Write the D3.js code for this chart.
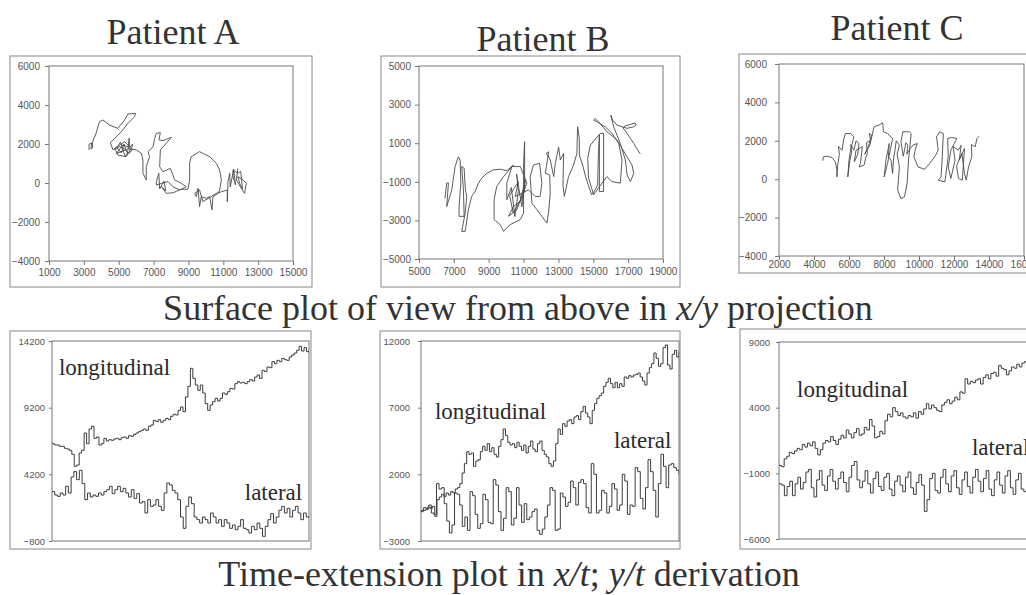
<!DOCTYPE html>
<html>
<head>
<meta charset="utf-8">
<script src="https://cdn.jsdelivr.net/npm/d3@7"></script>
<style>
body{margin:0;background:#fff;}
svg{display:block;}
.tick text{font-family:Arial,"Liberation Sans",sans-serif;fill:#555;}
.tick line{stroke:#777;}
</style>
</head>
<body>
<svg width="1026" height="595"></svg>
<script>
// x/y surface paths, [x, y] pairs
var pathA = [[3300,1700],[3300,2000],[3500,2050],[3500,1800],[3400,1750],[3450,2000],[3700,2550],[3900,3150],[4100,3230],[4480,2970],[4950,2800],[5340,3230],[5530,3540],[5970,3570],[5910,3400],[5530,3060],[5150,2630],[4770,2290],[4520,2070],[4670,1700],[5050,1860],[5440,1700],[4860,1520],[5240,1950],[5720,1780],[5440,1350],[4960,1430],[4770,1780],[5340,2120],[5620,1860],[5600,2300],[5500,1500],[5300,2000],[5150,1550],[4900,1800],[5100,2100],[5350,1400],[5700,1600],[5800,2000],[5550,1750],[6010,1700],[6300,1520],[6390,1180],[6390,500],[6580,160],[6580,840],[6770,1350],[6680,1610],[6970,1860],[7060,2290],[7160,2550],[7390,2580],[7310,2210],[7540,2170],[8020,2340],[7640,1950],[7390,1700],[7350,840],[7540,580],[7960,750],[8110,410],[8210,160],[8590,-20],[8880,-190],[8500,-360],[8110,-190],[7830,70],[7450,-20],[7160,-100],[7160,70],[7300,500],[7350,-300],[7600,100],[7700,-400],[7450,-190],[7730,-530],[8110,-500],[8590,-320],[8970,-320],[9070,160],[9070,1010],[9160,1350],[9640,1610],[9830,1520],[10220,1350],[10600,1010],[10790,670],[10890,160],[10790,-360],[10700,-530],[10410,-700],[10350,-1380],[10220,-700],[10030,-790],[9740,-700],[9640,-1210],[9550,-270],[9450,-700],[9360,-530],[9640,-360],[9830,-960],[10600,-530],[11230,-360],[11230,-960],[11270,70],[11370,500],[11400,-200],[11600,700],[11700,-100],[11560,330],[11560,670],[11840,500],[12000,600],[12100,-300],[11940,-20],[11840,330],[12130,160],[12320,-20],[12220,-530],[12030,-270],[11750,160],[11840,750]];

var pathB = [[6490,-1850],[6590,-1070],[6690,-1070],[6590,-2280],[6880,-1420],[7070,-210],[7260,300],[7360,130],[7400,-1070],[7300,-2280],[7300,-2790],[7590,-2790],[7550,-1420],[7450,-210],[7590,-300],[7660,-1420],[7740,-1760],[7650,-2620],[7450,-3570],[7650,-3570],[7830,-2450],[8020,-1760],[8220,-1500],[8410,-1070],[8600,-810],[8890,-560],[9270,-380],[9660,-350],[10040,-420],[10420,-130],[9850,-730],[9460,-1240],[9310,-1930],[9310,-2960],[9660,-3220],[9850,-3570],[10230,-3220],[10810,-2960],[11000,-2620],[11000,-40],[11060,1080],[11060,-1420],[10900,-1930],[10420,-2280],[10130,-2790],[10610,-2450],[11190,-1070],[10810,-210],[10330,-210],[10040,-1070],[10040,-1930],[10300,-1300],[10500,-2800],[10700,-1500],[10600,-600],[10900,-2300],[11100,-900],[10800,-2000],[10400,-2600],[10200,-1700],[10700,-1000],[10520,-1760],[11280,-1420],[11670,-1760],[11950,-1760],[12050,-1070],[11920,-40],[11570,-130],[11380,-730],[11480,-2110],[11770,-2450],[12050,-2790],[12340,-3140],[12440,-2530],[12530,-1590],[12500,-640],[12250,-560],[12440,560],[12310,480],[12530,130],[12730,-730],[12820,-40],[13010,790],[13110,130],[13300,480],[13260,-1160],[13340,-1760],[13580,-730],[13870,-130],[14060,480],[14100,1850],[14200,1250],[14200,390],[14390,-130],[14580,-810],[14770,-1330],[14900,-1670],[15060,-1500],[15250,-1160],[15290,390],[15350,1420],[15350,-1500],[15590,-1500],[15590,1510],[15400,1510],[14830,900],[14680,210],[14730,-810],[15020,-1670],[15780,-730],[16070,-990],[16550,-1070],[16650,130],[16460,990],[16070,1510],[15690,1850],[15210,2110],[15020,2200],[15110,2280],[15300,2110],[15780,1600],[16360,1170],[16930,300],[17220,-130],[17320,-560],[17130,-990],[16940,-640],[16840,130],[16550,990],[16170,1850],[16010,2450],[16100,2200],[16360,1940],[16650,1850],[16930,1770],[17320,1850],[17470,1940],[17400,2050],[16840,1900],[16700,1800],[16940,1510],[17130,1250],[17320,990],[17510,700],[17700,440]];

var pathC = [[4500,960],[4540,1170],[4740,1200],[5030,1130],[5220,900],[5310,470],[5310,120],[5350,700],[5450,1300],[5400,1700],[5600,1510],[5700,2100],[5800,2380],[6090,2380],[6280,2210],[6090,1510],[6000,1000],[5930,120],[6050,990],[6150,1400],[6100,1800],[6280,1510],[6400,2000],[6570,1860],[6500,1300],[6300,900],[6400,1500],[6760,1690],[6700,1200],[6660,820],[6570,640],[6860,730],[6950,1100],[7050,1340],[7000,1900],[7240,2030],[7150,2380],[7300,2300],[7100,1700],[6900,1300],[7200,1800],[7430,2730],[7720,2820],[7920,2940],[7970,2470],[8200,2380],[8490,2120],[8360,1510],[8200,820],[8010,120],[8110,990],[8300,1860],[8250,1200],[8400,990],[8490,300],[8550,1100],[8630,1510],[8700,2000],[8880,1770],[8750,1300],[8880,640],[8780,-570],[8970,-1010],[9170,-920],[9320,-230],[9400,990],[9550,2380],[9450,2470],[9070,2470],[8970,1950],[9100,1200],[9170,1510],[9250,1900],[9360,1770],[9300,1300],[9500,1600],[9650,1770],[9900,1860],[9780,1510],[9710,1170],[9940,640],[10320,520],[10610,820],[10900,1170],[11100,1510],[11000,2210],[11190,2470],[11390,2380],[11330,1170],[11260,120],[11100,-50],[11480,-140],[11670,1170],[11640,2120],[11870,2170],[12160,2120],[11820,1510],[11670,640],[11820,40],[12060,990],[11950,1700],[12250,1510],[12410,1770],[12300,1000],[12600,1600],[12540,820],[12480,-50],[12250,40],[12150,700],[12450,1340],[12600,300],[12700,-50],[12830,640],[13020,1170],[13000,1800],[13210,1690],[13310,2120],[13440,2240]];

// time-extension series (one value per sample)
var longA = [6500,6400,6400,6300,6300,6150,6100,6000,5700,4800,4900,5800,6000,7300,6500,7600,7800,6900,7000,6400,6500,6900,6700,6800,6750,6850,6900,6800,6950,7000,6900,7100,7050,7200,7300,7400,7500,7600,7500,7800,7900,8250,8150,8300,8100,8250,8400,8300,8550,8700,8650,9000,9250,8900,10000,10800,12150,11400,10900,10500,10900,10300,9500,9000,9400,9650,9900,9700,9900,10300,10200,10400,10650,10600,11000,11150,11050,11100,11000,11150,11300,11200,11500,11650,11400,12000,11900,12250,12200,12650,12500,12750,12650,12900,12800,12750,13000,13150,13300,13500,13800,13450,13700,13400,13500];
var latA = [2900,2650,2550,2800,2650,3300,2800,4000,4400,3800,4500,3500,2300,2800,2500,2650,2550,2800,2650,2900,3050,3300,2750,3050,3300,2900,3150,2800,2500,3050,2400,2750,2050,2150,1300,2300,1800,1900,2300,1800,1500,2800,3550,3400,3000,2800,2300,1000,150,1800,2500,2000,1000,800,550,1000,800,550,1300,1000,550,800,300,800,550,150,400,50,300,800,150,50,-200,300,50,550,150,-450,300,800,1250,550,1000,1500,1800,1300,1650,1000,1500,1800,1300,800,1300,1000,1100];
var longB = [-800,-700,-650,-450,-550,-400,-1150,100,300,500,350,600,450,700,600,900,1000,1300,2100,2800,3700,3500,3600,2600,3000,3100,3700,4100,3800,4300,3700,4000,3500,3300,4100,4600,5400,4900,4400,4200,4300,4000,4400,4100,3800,4200,3600,4100,4500,3900,3700,4300,4500,3800,3500,3300,2800,2600,3000,4300,5400,5000,5800,5600,6000,6100,5800,6300,6400,6100,6700,7100,6600,6300,5800,6800,7300,7700,7900,8100,8600,8900,9200,8800,8500,8900,8500,8800,8600,9300,9200,9400,9300,9450,9500,9600,9300,9000,8700,9600,10000,10300,11100,10700,10100,10300,11500,11700,10200,9900,11000,11300,10800,11200];
var latB = [-700,-500,-600,-300,-900,-1000,1300,900,1000,-200,-1500,-2400,-1800,600,500,-300,-1900,-1200,-2200,700,400,-1000,-2050,-1700,500,100,-1600,-1700,1600,1200,-800,-2200,-1300,1000,700,-1800,-1300,1000,-300,-1600,-200,-1400,-1200,-800,-600,-2200,-2500,-2100,-1200,-300,1000,800,-2200,-2100,600,300,-400,-100,1500,1000,-300,1400,1600,1300,-500,-900,2800,2000,-900,-700,800,600,-900,-400,1300,900,-700,-300,2000,1500,-1000,-300,-400,2500,2200,200,-600,1000,3100,2200,800,-1200,1300,3500,2600,1000,2700,2800,2500,2300,2000];
var longC = [-400,-500,100,300,600,500,700,900,800,1200,1000,1300,1100,1400,900,400,800,1300,1500,1400,1800,1500,1200,1600,1900,1700,2300,2000,1700,2100,2400,1900,2000,2500,2300,3100,2600,1700,1800,2200,2000,3000,3500,3300,4000,3700,3400,3600,3300,3200,3400,3300,3600,3200,3700,3500,3900,4300,3900,4200,4000,3800,3700,4200,4400,4600,4300,4500,4800,4600,5200,5100,6200,5800,6000,5900,6100,6200,5800,6300,6500,6200,6600,6700,6400,7200,7000,6900,6500,6800,7100,7000,7300,7100,7400,7500,7300,7600,7800,7700,8000,8100];
var latC = [-1800,-1900,-2700,-2000,-1600,-2700,-1800,-1300,-2200,-1700,-900,-700,-2100,-2800,-1500,-800,-1900,-2300,-1200,-700,-1600,-2200,-1400,-900,-1700,-2400,-1300,-400,-100,-1500,-2100,-1600,-800,-1800,-2500,-1400,-900,-2000,-2300,-1300,-1000,-2200,-2700,-1600,-1200,-1900,-2400,-1300,-900,-2100,-2600,-1700,-1100,-1900,-3900,-3000,-1400,-1000,-2300,-2500,-1300,-700,-1800,-2400,-1200,-800,-2100,-2600,-1500,-900,-2000,-2500,-1300,-700,-1600,-2400,-1400,-800,-2200,-2700,-1500,-900,-1900,-2500,-1200,-800,-2100,-2600,-1500,-1000,-2200,-2400,-1300,-900,-2000,-2500,-1400,-1000];

var patients = ['Patient A','Patient B','Patient C'];
var xTicksA = [1000,3000,5000,7000,9000,11000,13000,15000];
var xTicksB = [5000,7000,9000,11000,13000,15000,17000,19000];
var xTicksC = [2000,4000,6000,8000,10000,12000,14000,16000];
var yTicksA = [-4000,-2000,0,2000,4000,6000];
var yTicksB = [-5000,-3000,-1000,1000,3000,5000];
var yTicksC = [-4000,-2000,0,2000,4000,6000];
var tTicksA = [-800,4200,9200,14200];
var tTicksB = [-3000,2000,7000,12000];
var tTicksC = [-6000,-1000,4000,9000];

var svg = d3.select('svg');
var serif = '"Liberation Serif","Times New Roman",serif';
var ink = '#3c3c3c';

var topPanels = [
	{path: pathA, xt: xTicksA, yt: yTicksA, outer: [10,56,302,231], plot: [49,66,293,261], xpad: 4, ypad: 5},
	{path: pathB, xt: xTicksB, yt: yTicksB, outer: [381,56,299,231], plot: [419,66,663,259], xpad: 5, ypad: 4},
	{path: pathC, xt: xTicksC, yt: yTicksC, outer: [739,54,330,219], plot: [779,64,1024,256], xpad: 1, ypad: 8}
];

var bottomPanels = [
	{series: [longA, latA], yt: tTicksA, outer: [10,331,301,218], plot: [52,341,309,541], ypad: 4,
		labels: [['longitudinal',0.027,11650],['lateral',0.75,2275]]},
	{series: [longB, latB], yt: tTicksB, outer: [380,331,300,218], plot: [421,341,679,541], ypad: 8,
		labels: [['longitudinal',0.054,6150],['lateral',0.748,3975]]},
	{series: [longC, latC], yt: tTicksC, outer: [740,329,330,220], plot: [779,342,1040,539], ypad: 6,
		labels: [['longitudinal',0.069,4815],['lateral',0.739,400]]}
];

function box(r, color){
	svg.append('rect')
		.attr('x', r[0]).attr('y', r[1]).attr('width', r[2]).attr('height', r[3])
		.attr('fill', 'none').attr('stroke', color).attr('stroke-width', 1);
}

function plotBox(p){
	svg.append('rect')
		.attr('x', p[0]).attr('y', p[1]).attr('width', p[2]-p[0]).attr('height', p[3]-p[1])
		.attr('fill', 'none').attr('stroke', '#777').attr('stroke-width', 1);
}

var clipId = 0;
function clip(p){
	var id = 'clip' + (clipId++);
	svg.append('clipPath').attr('id', id).append('rect')
		.attr('x', p[0]).attr('y', p[1]-2).attr('width', p[2]-p[0]).attr('height', p[3]-p[1]+4);
	return 'url(#' + id + ')';
}

var drawTop = function(c){
	var x = d3.scaleLinear().domain(d3.extent(c.xt)).range([c.plot[0], c.plot[2]]);
	var y = d3.scaleLinear().domain(d3.extent(c.yt)).range([c.plot[3], c.plot[1]]);
	box(c.outer, '#888');
	plotBox(c.plot);

	svg.append('g').attr('transform', 'translate(0,' + c.plot[3] + ')')
		.call(d3.axisBottom(x).tickValues(c.xt).tickSize(4).tickSizeOuter(0).tickPadding(c.xpad).tickFormat(d3.format('d')))
		.call(function(g){ g.select('.domain').remove(); })
		.selectAll('text').style('font-size', '10px');

	svg.append('g').attr('transform', 'translate(' + c.plot[0] + ',0)')
		.call(d3.axisLeft(y).tickValues(c.yt).tickSize(4).tickSizeOuter(0).tickPadding(c.ypad).tickFormat(d3.format('d')))
		.call(function(g){ g.select('.domain').remove(); })
		.selectAll('text').style('font-size', '10px');

	svg.append('path').datum(c.path)
		.attr('clip-path', clip(c.plot))
		.attr('d', d3.line().x(function(d){ return x(d[0]); }).y(function(d){ return y(d[1]); }))
		.attr('fill', 'none').attr('stroke', '#4a4a4a').attr('stroke-width', 0.9)
		.attr('stroke-linejoin', 'round');
};

var drawBottom = function(c){
	var y = d3.scaleLinear().domain(d3.extent(c.yt)).range([c.plot[3], c.plot[1]]);
	box(c.outer, '#888');
	plotBox(c.plot);

	svg.append('g').attr('transform', 'translate(' + c.plot[0] + ',0)')
		.call(d3.axisLeft(y).tickValues(c.yt).tickSize(3).tickSizeOuter(0).tickPadding(c.ypad).tickFormat(d3.format('d')))
		.call(function(g){ g.select('.domain').remove(); })
		.selectAll('text').style('font-size', '9.5px');

	var cp = clip(c.plot);
	c.series.forEach(function(s){
		var x = d3.scaleLinear().domain([0, s.length-1]).range([c.plot[0], c.plot[2]]);
		svg.append('path').datum(s)
			.attr('clip-path', cp)
			.attr('d', d3.line().curve(d3.curveStepAfter).x(function(d, i){ return x(i); }).y(function(d){ return y(d); }))
			.attr('fill', 'none').attr('stroke', ink).attr('stroke-width', 1);
	});

	c.labels.forEach(function(l){
		svg.append('text')
			.attr('x', c.plot[0] + l[1]*(c.plot[2]-c.plot[0]))
			.attr('y', y(l[2]))
			.style('font-family', serif).style('font-size', '23px').style('fill', '#2a2a2a')
			.text(l[0]);
	});
};

topPanels.forEach(drawTop);
bottomPanels.forEach(drawBottom);

// titles
var titlePos = [[173,44],[543,51],[897,40]];
patients.forEach(function(t, i){
	svg.append('text')
		.attr('x', titlePos[i][0]).attr('y', titlePos[i][1])
		.attr('text-anchor', 'middle')
		.style('font-family', serif).style('font-size', '36px').style('fill', '#333')
		.text(t);
});

var sub1 = svg.append('text').attr('x', 518).attr('y', 320).attr('text-anchor', 'middle')
	.style('font-family', serif).style('font-size', '36px').style('fill', '#333');
sub1.append('tspan').text('Surface plot of view from above in ');
sub1.append('tspan').style('font-style', 'italic').text('x/y');
sub1.append('tspan').text(' projection');

var sub2 = svg.append('text').attr('x', 509).attr('y', 586).attr('text-anchor', 'middle')
	.style('font-family', serif).style('font-size', '36px').style('fill', '#333');
sub2.append('tspan').text('Time-extension plot in ');
sub2.append('tspan').style('font-style', 'italic').text('x/t');
sub2.append('tspan').text('; ');
sub2.append('tspan').style('font-style', 'italic').text('y/t');
sub2.append('tspan').text(' derivation');
</script>
</body>
</html>
